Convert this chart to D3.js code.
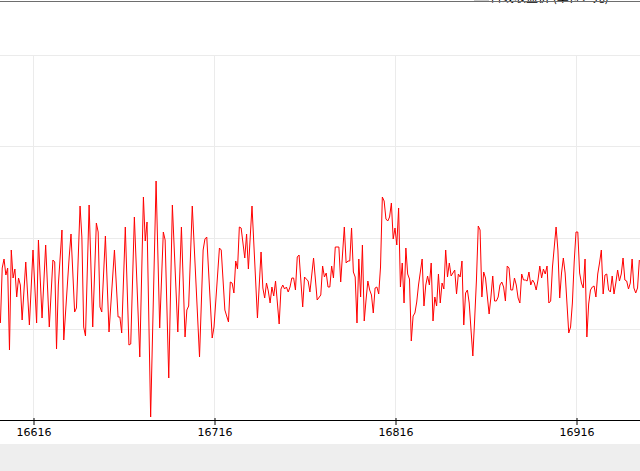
<!DOCTYPE html>
<html lang="zh">
<head>
    <meta charset="UTF-8">
    <title>日线收盘价</title>
    <script src="https://d3js.org/d3.v7.min.js"></script>
    <style>
        body {
            margin: 0;
            background: #fff;
            font-family: "DejaVu Sans", sans-serif;
            overflow: hidden;
        }
        .grid line {
            stroke: #ebebeb;
            stroke-width: 1;
        }
    </style>
</head>
<body>

<svg id="chart" width="640" height="471"></svg>

<script>
    const startDay = 16598;
    const dayOffsets = [
        0, 1, 2, 3, 4, 5, 6, 7, 8, 9,
        10, 11, 12, 14, 16, 18, 20, 21, 23, 25,
        27, 29, 30, 31, 32, 34, 35, 36, 38, 39,
        41, 42, 44, 45, 46, 47, 49, 51, 53, 54,
        55, 56, 58, 60, 63, 65, 66, 67, 69, 71,
        72, 74, 77, 79, 80, 81, 83, 86, 88, 90,
        91, 93, 95, 98, 100, 102, 103, 104, 106, 110,
        112, 113, 114, 117, 118, 121, 122, 124, 126, 127,
        128, 129, 130, 131, 132, 133, 135, 136, 137, 139,
        142, 144, 145, 146, 147, 148, 149, 150, 151, 152,
        154, 155, 156, 157, 158, 159, 160, 161, 162, 163,
        164, 165, 167, 168, 170, 171, 173, 175, 177, 178,
        179, 180, 181, 182, 183, 184, 185, 187, 188, 190,
        191, 192, 193, 194, 195, 196, 197, 198, 199, 200,
        201, 202, 203, 204, 205, 206, 207, 208, 209, 210,
        211, 212, 213, 214, 215, 216, 217, 218, 219, 220,
        221, 222, 223, 224, 225, 226, 227, 228, 229, 230,
        231, 233, 234, 235, 236, 237, 238, 239, 240, 241,
        242, 243, 244, 245, 246, 247, 248, 249, 250, 251,
        252, 253, 254, 255, 256, 257, 258, 259, 260, 261,
        262, 263, 264, 265, 266, 267, 268, 270, 271, 272,
        273, 274, 275, 276, 277, 278, 279, 280, 281, 282,
        283, 284, 285, 286, 287, 288, 289, 290, 291, 292,
        293, 294, 295, 296, 297, 298, 299, 300, 301, 302,
        303, 304, 305, 307, 308, 309, 310, 311, 312, 313,
        314, 315, 316, 317, 318, 319, 320, 321, 322, 323,
        324, 325, 326, 327, 328, 329, 330, 331, 332, 333,
        334, 335, 336, 337, 338, 339, 340, 341, 342, 343,
        344, 345, 346, 347, 348, 349, 350, 351, 352, 353
    ];
    const values = [
        97, 152, 161, 145, 152, 70, 170, 142, 151, 123,
        142, 135, 100, 158, 95, 170, 97, 180, 102, 175,
        93, 160, 158, 71, 135, 190, 80, 108, 163, 186,
        108, 112, 214, 183, 93, 84, 215, 93, 197, 188,
        113, 108, 184, 88, 170, 103, 103, 87, 193, 75,
        76, 203, 63, 223, 179, 198, 3, 239, 92, 188,
        180, 42, 215, 88, 193, 83, 110, 114, 214, 63,
        170, 181, 183, 82, 93, 172, 170, 110, 98, 138,
        137, 127, 159, 151, 193, 192, 162, 186, 151, 214,
        102, 168, 132, 122, 137, 129, 117, 133, 124, 139,
        96, 131, 135, 131, 133, 128, 133, 142, 142, 130,
        163, 165, 113, 143, 139, 128, 162, 120, 125, 154,
        143, 147, 133, 133, 154, 142, 173, 173, 138, 193,
        157, 159, 159, 192, 148, 143, 97, 161, 123, 175,
        99, 120, 139, 130, 125, 107, 132, 133, 126, 153,
        223, 219, 201, 199, 203, 217, 181, 192, 175, 212,
        133, 157, 117, 172, 146, 141, 79, 104, 107, 118,
        135, 161, 114, 135, 144, 135, 157, 99, 123, 114,
        146, 117, 137, 131, 170, 143, 157, 144, 147, 150,
        126, 146, 143, 159, 95, 127, 130, 117, 90, 64,
        100, 140, 194, 190, 123, 148, 142, 106, 123, 144,
        119, 119, 123, 135, 138, 133, 119, 154, 152, 130,
        130, 142, 135, 122, 117, 146, 140, 140, 139, 148,
        135, 140, 137, 130, 140, 154, 142, 151, 146, 154,
        117, 119, 153, 193, 170, 122, 147, 162, 147, 117,
        87, 93, 117, 158, 188, 188, 147, 137, 132, 161,
        83, 116, 130, 133, 134, 123, 146, 157, 170, 126,
        145, 146, 130, 128, 144, 126, 137, 150, 139, 146,
        162, 140, 139, 131, 137, 161, 132, 127, 132, 160
    ];
    const tickDays = [16616, 16716, 16816, 16916];
    const gridValues = [91.25, 182.5, 273.75, 365];
    const legendLabel = "日线收盘价 (单位：元)";

    const data = dayOffsets.map((d, i) => ({ day: startDay + d, value: values[i] }));

    const width = 640;
    const plotTop = 55, plotBottom = 420, footerTop = 444;

    const svg = d3.select("#chart");

    const x = d3.scaleLinear()
        .domain([16616, 16916])
        .range([33, 576]);

    const y = d3.scaleLinear()
        .domain([0, 365])
        .range([plotBottom, plotTop]);

    // grid
    const grid = svg.append("g").attr("class", "grid");
    gridValues.forEach(v => {
        const gy = Math.round(y(v)) + 0.5;
        grid.append("line")
            .attr("x1", 0).attr("x2", width)
            .attr("y1", gy).attr("y2", gy);
    });
    tickDays.forEach(d => {
        const gx = Math.round(x(d)) + 0.5;
        grid.append("line")
            .attr("x1", gx).attr("x2", gx)
            .attr("y1", plotTop).attr("y2", plotBottom);
    });

    // the series
    const line = d3.line()
        .x(d => x(d.day))
        .y(d => y(d.value));

    svg.append("path")
        .datum(data)
        .attr("fill", "none")
        .attr("stroke", "#ff0000")
        .attr("stroke-width", 1)
        .attr("d", line);

    // x axis
    const axis = svg.append("g")
        .attr("transform", `translate(0.5,${plotBottom})`)
        .call(d3.axisBottom(x)
            .tickValues(tickDays)
            .tickFormat(d3.format(""))
            .tickSize(5)
            .tickPadding(3));
    axis.select(".domain").remove();
    axis.selectAll(".tick line").attr("y1", -2).attr("y2", 5).attr("stroke", "#000");
    axis.selectAll(".tick text")
        .attr("font-family", "DejaVu Sans")
        .attr("font-size", "11px")
        .attr("fill", "#000");

    svg.append("line")
        .attr("x1", 0).attr("x2", width)
        .attr("y1", plotBottom + 0.5).attr("y2", plotBottom + 0.5)
        .attr("stroke", "#000")
        .attr("stroke-width", 1);

    // grey strip at the bottom
    svg.append("rect")
        .attr("x", 0).attr("y", footerTop)
        .attr("width", width).attr("height", 471 - footerTop)
        .attr("fill", "#eeeeee");

    // top bar: border and the legend, mostly scrolled out of view
    svg.append("rect")
        .attr("x", 474).attr("y", -10)
        .attr("width", 15).attr("height", 12)
        .attr("fill", "#cccccc");
    svg.append("text")
        .attr("x", 490).attr("y", 2)
        .attr("font-family", "Noto Sans CJK SC")
        .attr("font-size", "12px")
        .attr("fill", "#000")
        .text(legendLabel);
    svg.append("line")
        .attr("x1", 0).attr("x2", width)
        .attr("y1", 1.5).attr("y2", 1.5)
        .attr("stroke", "#6e6e6e")
        .attr("stroke-width", 1);
</script>

</body>
</html>
